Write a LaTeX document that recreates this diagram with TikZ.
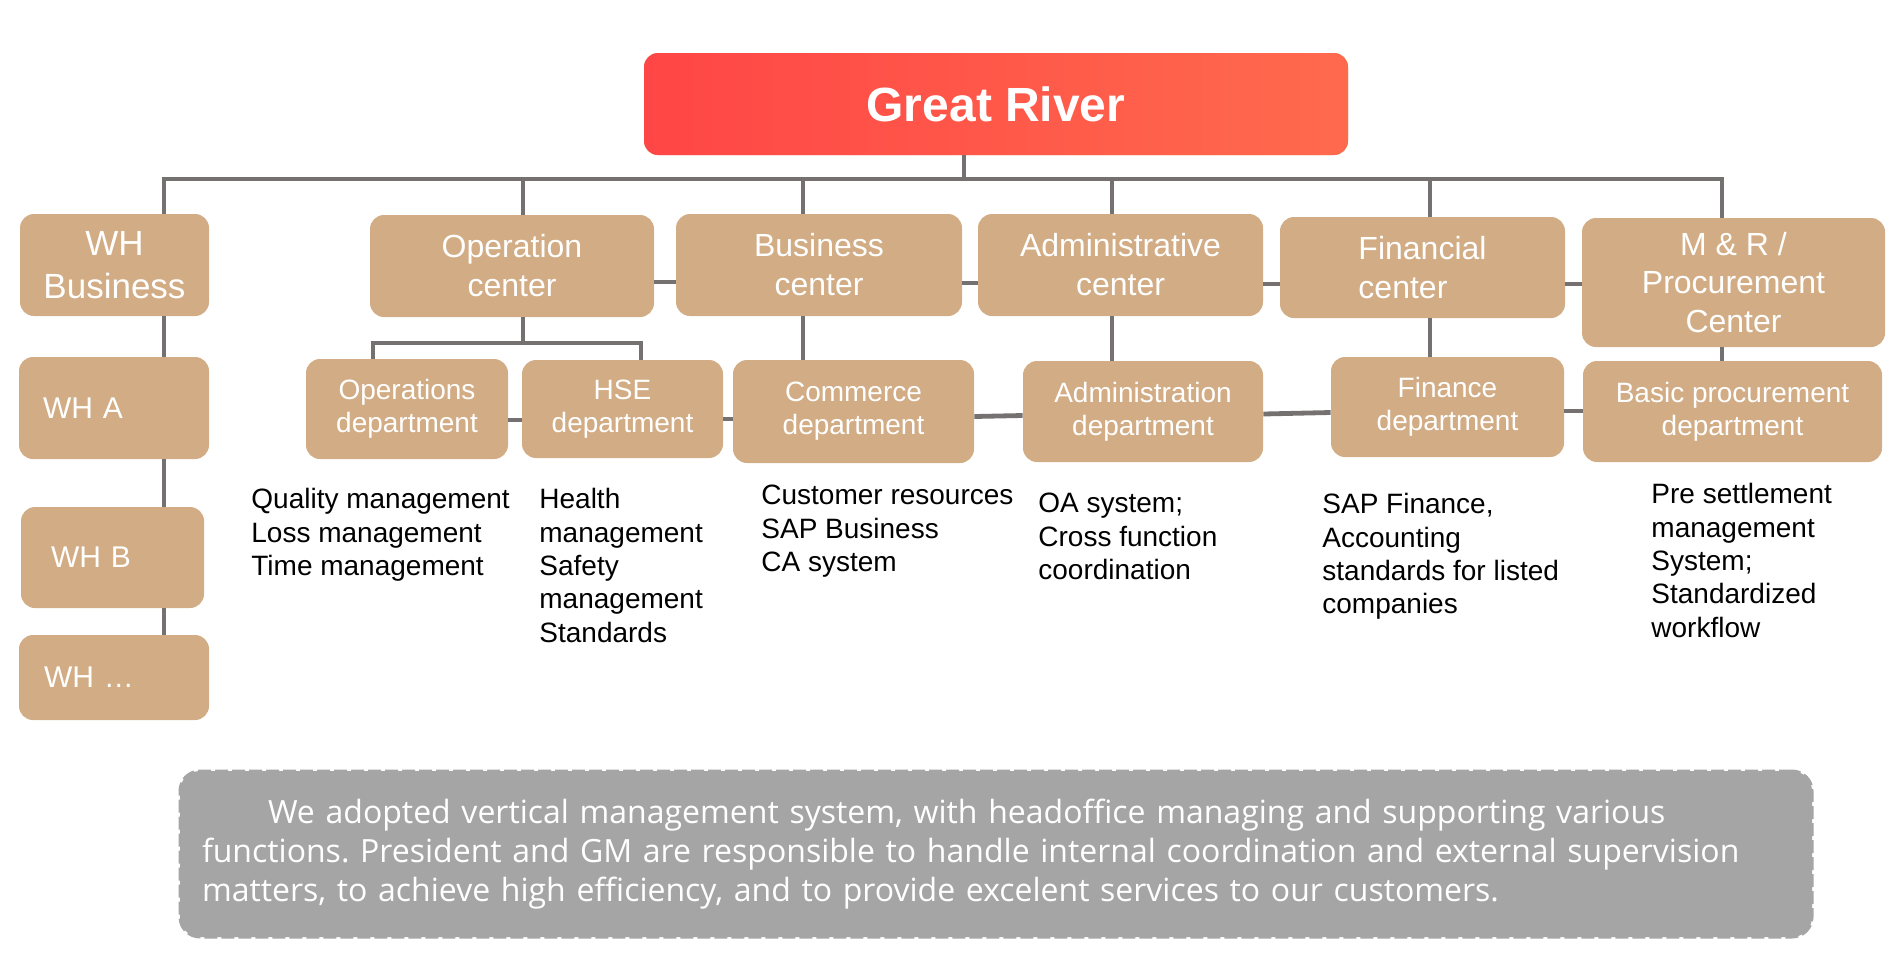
\documentclass[tikz,border=0pt]{standalone}
\usepackage{fontspec}
\setmainfont{Liberation Sans}
\newfontfamily\notefont{Open Sans}
\usetikzlibrary{calc}
\definecolor{boxtan}{HTML}{D2AC84}
\definecolor{linegray}{HTML}{767171}
\definecolor{redL}{HTML}{FF4646}
\definecolor{redR}{HTML}{FF6A4D}
\definecolor{notegray}{HTML}{A5A5A5}
\begin{document}
\frenchspacing
\begin{tikzpicture}[x=0.5pt,y=-0.5pt,
 box/.style={fill=boxtan, rounded corners=7pt, text=white, inner sep=0pt, align=center},
 sz/.style 2 args={minimum width=#1*0.5pt, minimum height=#2*0.5pt},
 ctr/.style={font=\fontsize{16pt}{19.5pt}\selectfont},
 dep/.style={font=\fontsize{14pt}{16.5pt}\selectfont},
 whs/.style={font=\fontsize{15pt}{18pt}\selectfont, align=left},
 conn/.style={draw=linegray, line width=2.4pt},
 detail/.style={anchor=north west, inner sep=0pt, align=left, font=\fontsize{14pt}{16.7pt}\selectfont, text=black},
]
\useasboundingbox (0,0) rectangle (1904,959);

% top
\node[box, sz={704}{102}, left color=redL, right color=redR, font=\bfseries\fontsize{24pt}{28pt}\selectfont] (great) at (996,104) {Great River};

% centers
\node[box, sz={189}{102}, font=\fontsize{17.5pt}{21.5pt}\selectfont] (whbus) at (114.5,265) {WH\\Business};
\node[box, sz={284}{102}, ctr] (opc) at (512,266) {Operation\\center};
\node[box, sz={286}{102}, ctr] (busc) at (819,265) {Business\\center};
\node[box, sz={285}{102}, ctr] (admc) at (1120.5,265) {Administrative\\center};
\node[box, sz={285}{101}, ctr, align=left] (finc) at (1422.5,267.5) {Financial\\center};
\node[box, sz={303}{129}, font=\fontsize{16pt}{19.25pt}\selectfont] (mrc) at (1733.5,282.5) {M \& R /\\Procurement\\Center};

% WH column
\node[box, sz={190}{102}, whs, inner xsep=12pt, text width=71pt] (wha) at (114,408) {WH A};
\node[box, sz={183}{101}, whs, inner xsep=15pt, text width=61.5pt] (whb) at (112.5,557.5) {WH B};
\node[box, sz={190}{85}, whs, inner xsep=12.5pt, text width=70pt] (whx) at (114,677.5) {WH \dots};

% departments
\node[box, sz={202}{100}, dep] (opsd) at (407,409) {Operations\\department};
\node[box, sz={201}{98}, dep] (hsed) at (622.5,409) {HSE\\department};
\node[box, sz={241}{103}, dep] (comd) at (853.5,411.5) {Commerce\\department};
\node[box, sz={240}{101}, dep] (admd) at (1143,411.5) {Administration\\department};
\node[box, sz={233}{100}, dep] (find) at (1447.5,407) {Finance\\department};
\node[box, sz={299}{101}, dep] (basd) at (1732.5,411.5) {Basic procurement\\department};

% coordinates for connector routing
\coordinate (bwh) at (164,179);
\coordinate (bgr) at (964,179);
\coordinate (bop) at (523,179);
\coordinate (bbu) at (803,179);
\coordinate (bad) at (1112,179);
\coordinate (bfi) at (1430,179);
\coordinate (bmr) at (1722,179);
\coordinate (sbl) at (373,343);
\coordinate (sbr) at (641,343);

% main bus
\draw[conn] (bwh |- whbus.north) -- (bwh) -- (bmr) -- (bmr |- mrc.north);
\draw[conn] (bgr |- great.south) -- (bgr);
\draw[conn] (bop) -- (bop |- opc.north);
\draw[conn] (bbu) -- (bbu |- busc.north);
\draw[conn] (bad) -- (bad |- admc.north);
\draw[conn] (bfi) -- (bfi |- finc.north);

% center row links
\draw[conn] (opc.east |- 0,282) -- (busc.west |- 0,282);
\draw[conn] (busc.east |- 0,283) -- (admc.west |- 0,283);
\draw[conn] (admc.east |- 0,284) -- (finc.west |- 0,284);
\draw[conn] (finc.east |- 0,284) -- (mrc.west |- 0,284);

% WH chain
\draw[conn] (bwh |- whbus.south) -- (bwh |- wha.north);
\draw[conn] (bwh |- wha.south) -- (bwh |- whb.north);
\draw[conn] (bwh |- whb.south) -- (bwh |- whx.north);

% downward links
\draw[conn] (bop |- opc.south) -- (bop |- sbl);
\draw[conn] (sbl |- opsd.north) -- (sbl) -- (sbr) -- (sbr |- hsed.north);
\draw[conn] (bbu |- busc.south) -- (bbu |- comd.north);
\draw[conn] (bad |- admc.south) -- (bad |- admd.north);
\draw[conn] (bfi |- finc.south) -- (bfi |- find.north);
\draw[conn] (bmr |- mrc.south) -- (bmr |- basd.north);

% department row links
\draw[conn] (opsd.east |- 0,420) -- (hsed.west |- 0,420);
\draw[conn] (hsed.east |- 0,419) -- (comd.west |- 0,419);
\draw[conn] (comd.east |- 0,416.5) -- (admd.west |- 0,415.5);
\draw[conn] (admd.east |- 0,414) -- (find.west |- 0,412.5);
\draw[conn] (find.east |- 0,411) -- (basd.west |- 0,411);

% detail texts
\node[detail] (qualtxt) at (251,488) {Quality management\\Loss management\\Time management};
\node[detail] (hsetxt) at (539,488) {Health\\management\\Safety\\management\\Standards};
\node[detail] (comtxt) at (761,485) {Customer resources\\SAP Business\\CA system};
\node[detail] (admtxt) at (1038,493) {OA system;\\Cross function\\coordination};
\node[detail] (fintxt) at (1322,493) {SAP Finance,\\Accounting\\standards for listed\\companies};
\node[detail] (bastxt) at (1651,483) {Pre settlement\\management\\System;\\Standardized\\workflow};

% note
\node[fill=notegray, draw=notegray, line width=1.5pt, dash pattern=on 6.5pt off 2pt, rounded corners=10pt,
      sz={1632}{166}, inner xsep=11pt, inner ysep=0pt, text width=794pt, align=left, text=white,
      font=\notefont\fontsize{16pt}{19.3pt}\selectfont] (note) at (996,854)
 {\hspace*{33pt}We adopted vertical management system, with headoffice managing and supporting various\\
  functions. President and GM are responsible to handle internal coordination and external supervision\\
  matters, to achieve high efficiency, and to provide excelent services to our customers.};
\end{tikzpicture}
\end{document}
